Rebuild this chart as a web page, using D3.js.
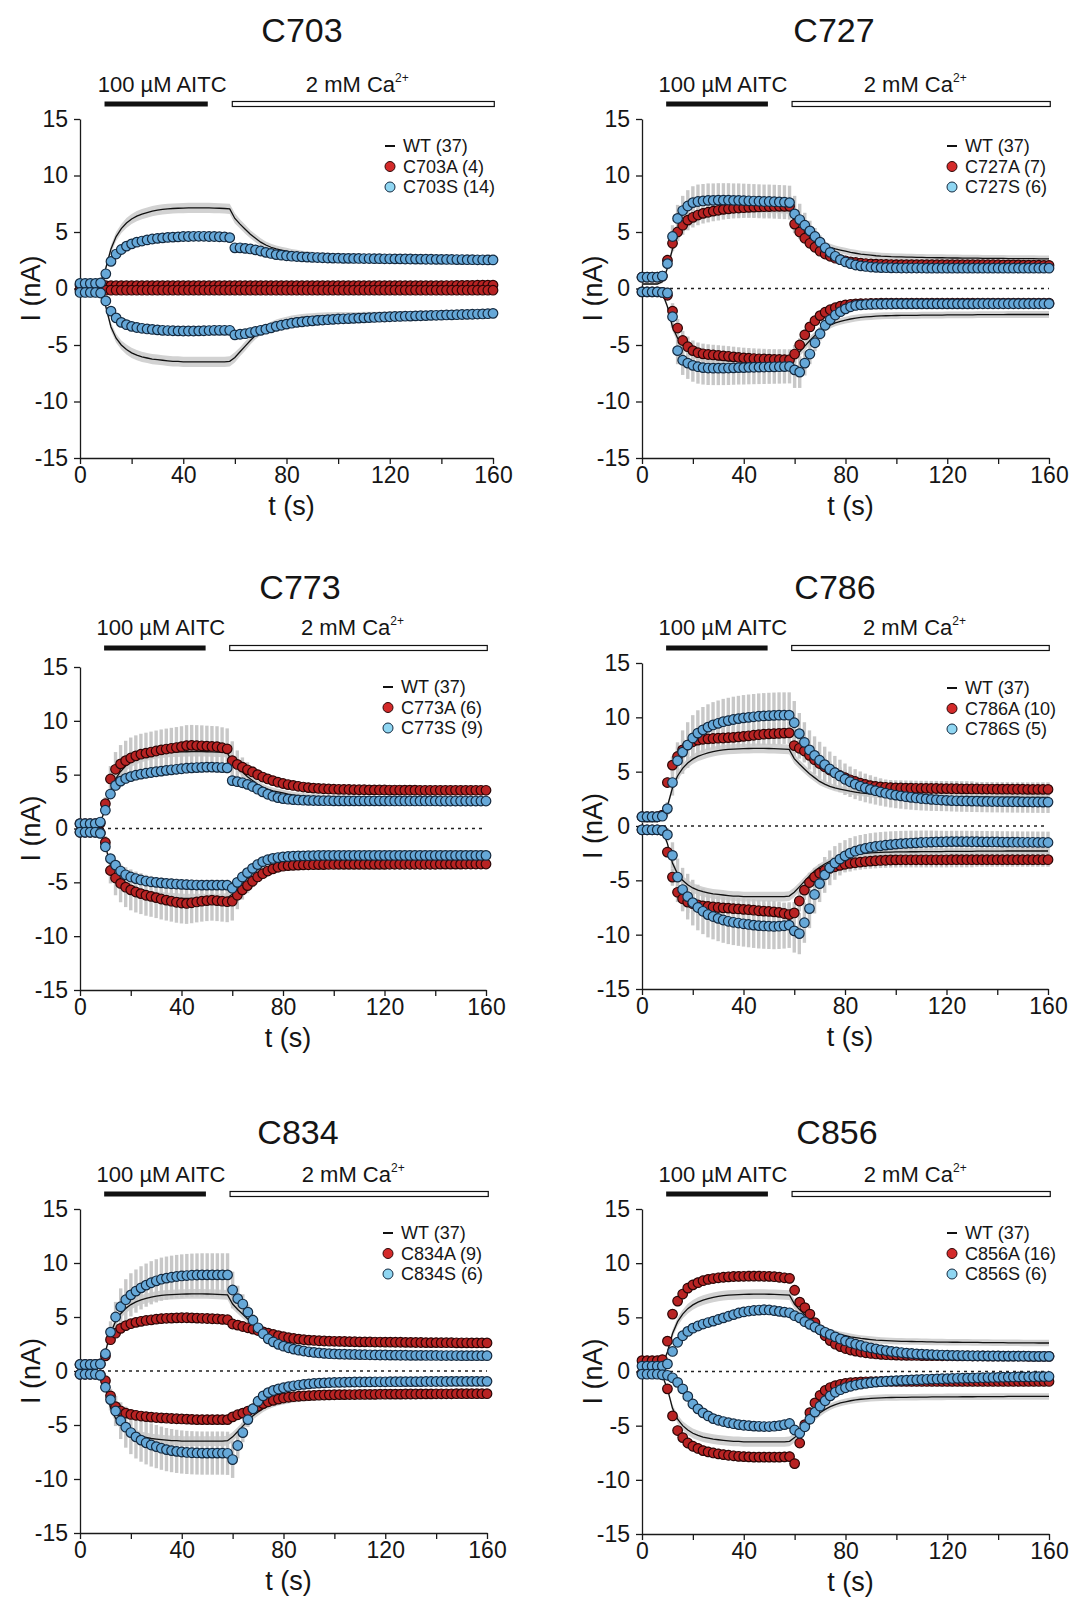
<!DOCTYPE html>
<html>
<head>
<meta charset="utf-8">
<script src="https://cdn.jsdelivr.net/npm/d3@7"></script>
<style>
  body { margin: 0; background: #fff; }
  text { font-family: "Liberation Sans", Arial, sans-serif; fill: #151515; }
</style>
</head>
<body>
<svg id="fig"></svg>
<script>
// sampling times (s)
const tSec = [0, 2, 4, 6, 8,
  10, 12, 14, 16, 18, 20, 22, 24, 26, 28, 30, 32, 34, 36, 38, 40, 42, 44, 46, 48, 50, 52, 54, 56, 58,
  60, 62, 64, 66, 68, 70, 72, 74, 76, 78, 80, 82, 84, 86, 88, 90, 92, 94, 96, 98, 100,
  102, 104, 106, 108, 110, 112, 114, 116, 118, 120, 122, 124, 126, 128, 130, 132, 134, 136, 138, 140, 142, 144, 146, 148, 150, 152, 154, 156, 158, 160];

const xTicks = [0, 20, 40, 60, 80, 100, 120, 140, 160];
const xLabels = [0, 40, 80, 120, 160];
const yTicks = [-15, -10, -5, 0, 5, 10, 15];
const aitcOn = [9.5, 49.5];
const caOn = [59, 160.5];

// WT (37), same in every panel
const wtUp = [0.4, 0.4, 0.4, 0.4, 0.6,
  1.8, 3.5, 4.6, 5.3, 5.8, 6.15, 6.4, 6.58, 6.72, 6.84, 6.93, 7.0, 7.05, 7.08, 7.1, 7.12, 7.13, 7.14, 7.14, 7.14, 7.13, 7.12, 7.1, 7.08, 7.05,
  6.2, 5.7, 5.25, 4.8, 4.45, 4.1, 3.85, 3.65, 3.5, 3.4, 3.3, 3.2, 3.12, 3.05, 3.0, 2.95, 2.9, 2.87, 2.85, 2.82, 2.8,
  2.79, 2.78, 2.77, 2.76, 2.75, 2.74, 2.73, 2.72, 2.72, 2.71, 2.7, 2.7, 2.69, 2.69, 2.68, 2.68, 2.67, 2.67, 2.66, 2.66, 2.66, 2.65, 2.65, 2.65, 2.64, 2.64, 2.64, 2.63, 2.63, 2.63];
const wtDn = [-0.2, -0.2, -0.2, -0.2, -0.4,
  -1.6, -3.4, -4.4, -5.0, -5.4, -5.7, -5.9, -6.05, -6.15, -6.25, -6.3, -6.35, -6.4, -6.45, -6.45, -6.5, -6.5, -6.5, -6.5, -6.5, -6.5, -6.5, -6.5, -6.5, -6.45,
  -6.1, -5.6, -5.1, -4.6, -4.15, -3.8, -3.5, -3.25, -3.05, -2.9, -2.8, -2.7, -2.62, -2.56, -2.52, -2.48, -2.45, -2.43, -2.41, -2.4, -2.39,
  -2.38, -2.38, -2.37, -2.37, -2.36, -2.36, -2.35, -2.35, -2.35, -2.34, -2.34, -2.34, -2.33, -2.33, -2.33, -2.32, -2.32, -2.32, -2.31, -2.31, -2.31, -2.3, -2.3, -2.3, -2.3, -2.3, -2.3, -2.3, -2.3, -2.3];
const wtErr = [0.1, 0.1, 0.1, 0.1, 0.15,
  0.25, 0.35, 0.4, 0.4, 0.45, 0.45, 0.45, 0.45, 0.45, 0.45, 0.45, 0.45, 0.45, 0.45, 0.45, 0.45, 0.45, 0.45, 0.45, 0.45, 0.45, 0.45, 0.45, 0.45, 0.45,
  0.45, 0.4, 0.4, 0.35, 0.35, 0.35, 0.3, 0.3, 0.3, 0.3, 0.3, 0.3, 0.3, 0.3, 0.3, 0.3, 0.3, 0.3, 0.3, 0.3, 0.3,
  0.3, 0.3, 0.3, 0.3, 0.3, 0.3, 0.3, 0.3, 0.3, 0.3, 0.3, 0.3, 0.3, 0.3, 0.3, 0.3, 0.3, 0.3, 0.3, 0.3, 0.3, 0.3, 0.3, 0.3, 0.3, 0.3, 0.3, 0.3, 0.3, 0.3];

// C703
const p1aUp = [0.3, 0.3, 0.3, 0.3, 0.3,
  0.25, 0.25, 0.25, 0.25, 0.25, 0.25, 0.25, 0.25, 0.25, 0.25, 0.25, 0.25, 0.25, 0.25, 0.25, 0.25, 0.25, 0.25, 0.25, 0.25, 0.25, 0.25, 0.25, 0.25, 0.25,
  0.25, 0.25, 0.25, 0.25, 0.25, 0.25, 0.25, 0.25, 0.25, 0.25, 0.25, 0.25, 0.25, 0.25, 0.25, 0.25, 0.25, 0.25, 0.25, 0.25, 0.25,
  0.25, 0.25, 0.25, 0.25, 0.25, 0.25, 0.25, 0.25, 0.25, 0.25, 0.25, 0.25, 0.25, 0.25, 0.25, 0.25, 0.25, 0.25, 0.25, 0.25, 0.26, 0.26, 0.27, 0.27, 0.28, 0.28, 0.29, 0.3, 0.3, 0.3];
const p1aDn = [-0.15, -0.15, -0.15, -0.15, -0.15,
  -0.15, -0.15, -0.15, -0.15, -0.15, -0.15, -0.15, -0.15, -0.15, -0.15, -0.15, -0.15, -0.15, -0.15, -0.15, -0.15, -0.15, -0.15, -0.15, -0.15, -0.15, -0.15, -0.15, -0.15, -0.15,
  -0.15, -0.15, -0.15, -0.15, -0.15, -0.15, -0.15, -0.15, -0.15, -0.15, -0.15, -0.15, -0.15, -0.15, -0.15, -0.15, -0.15, -0.15, -0.15, -0.15, -0.15,
  -0.15, -0.15, -0.15, -0.15, -0.15, -0.15, -0.15, -0.15, -0.15, -0.15, -0.15, -0.15, -0.15, -0.15, -0.15, -0.15, -0.15, -0.15, -0.15, -0.15, -0.15, -0.15, -0.15, -0.15, -0.15, -0.15, -0.15, -0.15, -0.15, -0.15];
const p1sUp = [0.45, 0.45, 0.45, 0.45, 0.5,
  1.3, 2.4, 3.05, 3.45, 3.75, 3.95, 4.1, 4.2, 4.3, 4.38, 4.44, 4.48, 4.52, 4.55, 4.57, 4.6, 4.6, 4.62, 4.62, 4.62, 4.6, 4.6, 4.58, 4.56, 4.5,
  3.6, 3.6, 3.55, 3.5, 3.42, 3.32, 3.2, 3.1, 3.0, 2.95, 2.9, 2.86, 2.83, 2.8, 2.78, 2.76, 2.74, 2.72, 2.7, 2.69, 2.68,
  2.67, 2.67, 2.66, 2.66, 2.65, 2.65, 2.64, 2.64, 2.63, 2.63, 2.62, 2.62, 2.61, 2.61, 2.6, 2.6, 2.59, 2.59, 2.58, 2.58, 2.57, 2.57, 2.56, 2.56, 2.55, 2.55, 2.54, 2.54, 2.53, 2.53];
const p1sDn = [-0.35, -0.35, -0.35, -0.35, -0.4,
  -1.1, -2.0, -2.6, -3.0, -3.2, -3.35, -3.45, -3.52, -3.58, -3.62, -3.66, -3.7, -3.72, -3.74, -3.75, -3.76, -3.76, -3.76, -3.75, -3.74, -3.72, -3.7, -3.7, -3.7, -3.7,
  -4.1, -4.05, -4.0, -3.9, -3.8, -3.7, -3.6, -3.48, -3.35, -3.25, -3.15, -3.07, -3.0, -2.95, -2.9, -2.86, -2.82, -2.79, -2.76, -2.73, -2.7,
  -2.68, -2.66, -2.64, -2.62, -2.6, -2.58, -2.56, -2.54, -2.52, -2.5, -2.48, -2.47, -2.45, -2.44, -2.42, -2.41, -2.4, -2.38, -2.37, -2.36, -2.34, -2.33, -2.32, -2.3, -2.29, -2.28, -2.26, -2.25, -2.23, -2.2];
const p1aErr = [0.1, 0.1, 0.1, 0.1, 0.1,
  0.1, 0.1, 0.1, 0.1, 0.1, 0.1, 0.1, 0.1, 0.1, 0.1, 0.1, 0.1, 0.1, 0.1, 0.1, 0.1, 0.1, 0.1, 0.1, 0.1, 0.1, 0.1, 0.1, 0.1, 0.1,
  0.1, 0.1, 0.1, 0.1, 0.1, 0.1, 0.1, 0.1, 0.1, 0.1, 0.1, 0.1, 0.1, 0.1, 0.1, 0.1, 0.1, 0.1, 0.1, 0.1, 0.1,
  0.1, 0.1, 0.1, 0.1, 0.1, 0.1, 0.1, 0.1, 0.1, 0.1, 0.1, 0.1, 0.1, 0.1, 0.1, 0.1, 0.1, 0.1, 0.1, 0.1, 0.1, 0.1, 0.1, 0.1, 0.1, 0.1, 0.1, 0.1, 0.1, 0.1];
const p1sErr = [0.1, 0.1, 0.1, 0.1, 0.1,
  0.2, 0.25, 0.25, 0.25, 0.25, 0.25, 0.25, 0.25, 0.25, 0.25, 0.25, 0.25, 0.25, 0.25, 0.25, 0.25, 0.25, 0.25, 0.25, 0.25, 0.25, 0.25, 0.25, 0.25, 0.25,
  0.2, 0.2, 0.2, 0.2, 0.2, 0.2, 0.2, 0.2, 0.2, 0.2, 0.2, 0.2, 0.2, 0.2, 0.2, 0.2, 0.2, 0.2, 0.2, 0.2, 0.2,
  0.2, 0.2, 0.2, 0.2, 0.2, 0.2, 0.2, 0.2, 0.2, 0.2, 0.2, 0.2, 0.2, 0.2, 0.2, 0.2, 0.2, 0.2, 0.2, 0.2, 0.2, 0.2, 0.2, 0.2, 0.2, 0.2, 0.2, 0.2, 0.2, 0.2];

// C727
const p2aUp = [1.0, 1.0, 1.0, 1.0, 1.1,
  2.5, 4.0, 5.0, 5.6, 6.05, 6.3, 6.5, 6.65, 6.75, 6.85, 6.92, 7.0, 7.05, 7.1, 7.12, 7.15, 7.18, 7.2, 7.22, 7.24, 7.25, 7.26, 7.27, 7.27, 7.27,
  5.7, 5.0, 4.45, 4.0, 3.65, 3.3, 3.05, 2.85, 2.68, 2.55, 2.45, 2.36, 2.3, 2.25, 2.21, 2.18, 2.16, 2.14, 2.13, 2.12, 2.11,
  2.1, 2.1, 2.1, 2.1, 2.1, 2.1, 2.1, 2.1, 2.1, 2.1, 2.1, 2.1, 2.1, 2.1, 2.1, 2.1, 2.1, 2.1, 2.1, 2.1, 2.09, 2.09, 2.08, 2.08, 2.07, 2.07, 2.06, 2.06, 2.05, 2.05];
const p2sUp = [1.0, 1.0, 1.0, 1.0, 1.1,
  2.2, 4.6, 6.2, 6.9, 7.3, 7.6, 7.7, 7.75, 7.8, 7.8, 7.82, 7.82, 7.82, 7.8, 7.8, 7.78, 7.76, 7.74, 7.72, 7.7, 7.7, 7.68, 7.66, 7.64, 7.6,
  6.6, 6.1, 5.6, 5.1, 4.6, 4.1, 3.6, 3.2, 2.85, 2.55, 2.35, 2.2, 2.08, 2.0, 1.95, 1.9, 1.87, 1.85, 1.84, 1.83, 1.82,
  1.81, 1.81, 1.81, 1.81, 1.81, 1.8, 1.8, 1.8, 1.8, 1.8, 1.8, 1.8, 1.8, 1.8, 1.8, 1.8, 1.8, 1.8, 1.8, 1.8, 1.8, 1.8, 1.8, 1.8, 1.8, 1.8, 1.8, 1.8, 1.8, 1.8];
const p2aDn = [-0.3, -0.3, -0.3, -0.3, -0.35,
  -0.6, -2.0, -3.5, -4.6, -5.15, -5.5, -5.68, -5.78, -5.84, -5.88, -5.92, -5.96, -6.0, -6.05, -6.1, -6.14, -6.17, -6.2, -6.22, -6.24, -6.26, -6.27, -6.28, -6.29, -6.3,
  -5.8, -5.0, -4.1, -3.4, -2.85, -2.4, -2.1, -1.88, -1.7, -1.56, -1.45, -1.4, -1.36, -1.34, -1.33, -1.32, -1.31, -1.3, -1.3, -1.3, -1.3,
  -1.3, -1.3, -1.3, -1.3, -1.3, -1.3, -1.3, -1.3, -1.3, -1.3, -1.3, -1.3, -1.3, -1.3, -1.3, -1.3, -1.3, -1.3, -1.3, -1.3, -1.3, -1.3, -1.3, -1.3, -1.3, -1.3, -1.3, -1.3, -1.3, -1.3];
const p2sDn = [-0.3, -0.3, -0.3, -0.3, -0.35,
  -0.4, -2.5, -5.5, -6.35, -6.6, -6.8, -6.92, -7.0, -7.04, -7.05, -7.05, -7.05, -7.04, -7.02, -7.0, -7.0, -6.98, -6.97, -6.96, -6.95, -6.94, -6.93, -6.92, -6.91, -6.9,
  -7.2, -7.4, -6.6, -5.8, -4.8, -4.0, -3.25, -2.75, -2.35, -2.05, -1.8, -1.62, -1.5, -1.45, -1.42, -1.4, -1.39, -1.38, -1.37, -1.37, -1.36,
  -1.36, -1.36, -1.36, -1.36, -1.36, -1.36, -1.36, -1.36, -1.36, -1.36, -1.36, -1.36, -1.36, -1.36, -1.36, -1.35, -1.35, -1.35, -1.35, -1.35, -1.35, -1.35, -1.35, -1.35, -1.35, -1.35, -1.35, -1.35, -1.35, -1.35];
const p2aErr = [0.15, 0.15, 0.15, 0.15, 0.15,
  0.4, 0.7, 0.8, 0.85, 0.9, 0.9, 0.9, 0.9, 0.9, 0.9, 0.9, 0.9, 0.9, 0.9, 0.9, 0.9, 0.9, 0.9, 0.9, 0.9, 0.9, 0.9, 0.9, 0.9, 0.9,
  0.8, 0.6, 0.5, 0.4, 0.35, 0.3, 0.3, 0.3, 0.3, 0.3, 0.3, 0.3, 0.3, 0.3, 0.3, 0.3, 0.3, 0.3, 0.3, 0.3, 0.3,
  0.3, 0.3, 0.3, 0.3, 0.3, 0.3, 0.3, 0.3, 0.3, 0.3, 0.3, 0.3, 0.3, 0.3, 0.3, 0.3, 0.3, 0.3, 0.3, 0.3, 0.3, 0.3, 0.3, 0.3, 0.3, 0.3, 0.3, 0.3, 0.3, 0.3];
const p2sErr = [0.15, 0.15, 0.15, 0.15, 0.2,
  0.5, 1.0, 1.2, 1.3, 1.4, 1.45, 1.5, 1.5, 1.5, 1.5, 1.5, 1.5, 1.5, 1.5, 1.5, 1.5, 1.5, 1.5, 1.5, 1.5, 1.5, 1.5, 1.5, 1.5, 1.5,
  1.6, 1.4, 1.1, 0.9, 0.75, 0.6, 0.5, 0.45, 0.4, 0.38, 0.35, 0.33, 0.32, 0.3, 0.3, 0.3, 0.3, 0.3, 0.3, 0.3, 0.3,
  0.3, 0.3, 0.3, 0.3, 0.3, 0.3, 0.3, 0.3, 0.3, 0.3, 0.3, 0.3, 0.3, 0.3, 0.3, 0.3, 0.3, 0.3, 0.3, 0.3, 0.3, 0.3, 0.3, 0.3, 0.3, 0.3, 0.3, 0.3, 0.3, 0.3];

// C773
const p3aUp = [0.45, 0.45, 0.45, 0.45, 0.5,
  2.3, 4.6, 5.5, 6.0, 6.3, 6.55, 6.75, 6.9, 7.0, 7.1, 7.2, 7.3, 7.38, 7.45, 7.52, 7.6, 7.7, 7.72, 7.7, 7.68, 7.65, 7.62, 7.6, 7.5, 7.4,
  6.3, 5.95, 5.7, 5.45, 5.25, 5.0, 4.78, 4.6, 4.45, 4.3, 4.18, 4.08, 4.0, 3.92, 3.85, 3.8, 3.75, 3.72, 3.69, 3.67, 3.65,
  3.64, 3.63, 3.62, 3.61, 3.6, 3.6, 3.59, 3.59, 3.58, 3.58, 3.57, 3.57, 3.57, 3.56, 3.56, 3.56, 3.55, 3.55, 3.55, 3.55, 3.55, 3.55, 3.55, 3.55, 3.55, 3.55, 3.55, 3.55, 3.55, 3.55];
const p3sUp = [0.45, 0.45, 0.45, 0.45, 0.6,
  1.7, 3.2, 4.0, 4.4, 4.65, 4.82, 4.95, 5.05, 5.13, 5.2, 5.27, 5.33, 5.4, 5.45, 5.5, 5.55, 5.6, 5.63, 5.66, 5.68, 5.7, 5.7, 5.68, 5.66, 5.63,
  4.45, 4.35, 4.25, 4.1, 3.9, 3.65, 3.4, 3.18, 3.0, 2.87, 2.78, 2.72, 2.68, 2.65, 2.63, 2.61, 2.6, 2.59, 2.58, 2.58, 2.57,
  2.57, 2.57, 2.57, 2.57, 2.57, 2.57, 2.57, 2.57, 2.57, 2.57, 2.56, 2.56, 2.56, 2.56, 2.56, 2.56, 2.56, 2.56, 2.56, 2.56, 2.55, 2.55, 2.55, 2.55, 2.55, 2.55, 2.55, 2.55, 2.55, 2.55];
const p3aDn = [-0.35, -0.35, -0.35, -0.35, -0.4,
  -1.3, -3.9, -4.6, -5.1, -5.45, -5.7, -5.9, -6.05, -6.2, -6.3, -6.42, -6.55, -6.65, -6.75, -6.85, -6.92, -6.96, -6.9, -6.82, -6.75, -6.7, -6.66, -6.7, -6.75, -6.8,
  -6.75, -6.2, -5.7, -5.3, -4.9, -4.5, -4.2, -3.95, -3.75, -3.6, -3.5, -3.45, -3.42, -3.4, -3.38, -3.37, -3.36, -3.35, -3.35, -3.34, -3.34,
  -3.33, -3.33, -3.33, -3.33, -3.33, -3.33, -3.33, -3.33, -3.33, -3.33, -3.32, -3.32, -3.32, -3.32, -3.32, -3.32, -3.32, -3.32, -3.32, -3.32, -3.31, -3.31, -3.31, -3.31, -3.31, -3.3, -3.3, -3.3, -3.3, -3.3];
const p3sDn = [-0.35, -0.35, -0.35, -0.35, -0.45,
  -1.7, -2.8, -3.4, -3.95, -4.3, -4.5, -4.65, -4.78, -4.88, -4.95, -5.0, -5.05, -5.1, -5.13, -5.16, -5.19, -5.21, -5.23, -5.25, -5.26, -5.26, -5.26, -5.26, -5.26, -5.26,
  -5.55, -5.0, -4.5, -4.1, -3.7, -3.35, -3.08, -2.9, -2.78, -2.7, -2.64, -2.6, -2.57, -2.55, -2.54, -2.53, -2.52, -2.51, -2.5, -2.5, -2.5,
  -2.5, -2.5, -2.5, -2.5, -2.5, -2.5, -2.5, -2.5, -2.5, -2.5, -2.5, -2.5, -2.5, -2.5, -2.5, -2.5, -2.5, -2.5, -2.5, -2.5, -2.5, -2.5, -2.5, -2.5, -2.5, -2.5, -2.5, -2.5, -2.5, -2.5];
const p3aErr = [0.15, 0.15, 0.15, 0.15, 0.15,
  0.6, 1.2, 1.6, 1.75, 1.85, 1.9, 1.9, 1.9, 1.9, 1.9, 1.9, 1.9, 1.9, 1.9, 1.9, 1.9, 1.9, 1.9, 1.9, 1.9, 1.9, 1.9, 1.9, 1.9, 1.9,
  1.8, 1.3, 0.9, 0.7, 0.55, 0.45, 0.4, 0.38, 0.36, 0.35, 0.35, 0.35, 0.35, 0.35, 0.35, 0.35, 0.35, 0.35, 0.35, 0.35, 0.35,
  0.35, 0.35, 0.35, 0.35, 0.35, 0.35, 0.35, 0.35, 0.35, 0.35, 0.35, 0.35, 0.35, 0.35, 0.35, 0.35, 0.35, 0.35, 0.35, 0.35, 0.35, 0.35, 0.35, 0.35, 0.35, 0.35, 0.35, 0.35, 0.35, 0.35];
const p3sErr = [0.15, 0.15, 0.15, 0.15, 0.15,
  0.3, 0.4, 0.5, 0.5, 0.5, 0.5, 0.5, 0.5, 0.5, 0.5, 0.5, 0.5, 0.5, 0.5, 0.5, 0.5, 0.5, 0.5, 0.5, 0.5, 0.5, 0.5, 0.5, 0.5, 0.5,
  0.5, 0.45, 0.4, 0.35, 0.3, 0.3, 0.3, 0.3, 0.3, 0.3, 0.3, 0.3, 0.3, 0.3, 0.3, 0.3, 0.3, 0.3, 0.3, 0.3, 0.3,
  0.3, 0.3, 0.3, 0.3, 0.3, 0.3, 0.3, 0.3, 0.3, 0.3, 0.3, 0.3, 0.3, 0.3, 0.3, 0.3, 0.3, 0.3, 0.3, 0.3, 0.3, 0.3, 0.3, 0.3, 0.3, 0.3, 0.3, 0.3, 0.3, 0.3];

// C786
const p4aUp = [0.85, 0.85, 0.85, 0.85, 1.0,
  4.0, 5.6, 6.4, 7.0, 7.45, 7.75, 7.9, 7.98, 8.02, 8.05, 8.08, 8.1, 8.13, 8.16, 8.2, 8.25, 8.3, 8.35, 8.4, 8.45, 8.48, 8.5, 8.52, 8.55, 8.57,
  7.4, 7.15, 6.9, 6.5, 6.1, 5.75, 5.45, 5.15, 4.9, 4.65, 4.45, 4.25, 4.1, 3.95, 3.82, 3.72, 3.65, 3.6, 3.56, 3.53, 3.51,
  3.5, 3.49, 3.48, 3.47, 3.46, 3.46, 3.45, 3.45, 3.44, 3.44, 3.43, 3.43, 3.42, 3.42, 3.41, 3.41, 3.4, 3.4, 3.4, 3.39, 3.39, 3.39, 3.38, 3.38, 3.38, 3.37, 3.37, 3.37, 3.37, 3.37];
const p4sUp = [0.85, 0.85, 0.85, 0.85, 0.9,
  1.6, 4.0, 6.0, 6.8, 7.45, 8.1, 8.55, 8.85, 9.1, 9.3, 9.45, 9.6, 9.7, 9.8, 9.88, 9.95, 10.0, 10.05, 10.1, 10.13, 10.16, 10.18, 10.2, 10.2, 10.2,
  9.5, 8.5, 7.7, 7.0, 6.5, 6.05, 5.65, 5.25, 4.9, 4.6, 4.3, 4.07, 3.85, 3.67, 3.5, 3.37, 3.25, 3.13, 3.02, 2.92, 2.84,
  2.77, 2.7, 2.64, 2.58, 2.53, 2.49, 2.45, 2.42, 2.39, 2.36, 2.34, 2.32, 2.31, 2.3, 2.29, 2.28, 2.27, 2.26, 2.25, 2.25, 2.24, 2.24, 2.23, 2.23, 2.22, 2.22, 2.21, 2.21, 2.2, 2.2];
const p4aDn = [-0.35, -0.35, -0.35, -0.35, -0.4,
  -2.4, -4.7, -6.1, -6.7, -7.0, -7.15, -7.25, -7.35, -7.4, -7.45, -7.5, -7.53, -7.56, -7.6, -7.63, -7.67, -7.7, -7.75, -7.8, -7.83, -7.86, -7.9, -7.95, -8.05, -8.15,
  -8.0, -6.9, -5.9, -5.2, -4.7, -4.35, -4.1, -3.9, -3.75, -3.62, -3.52, -3.44, -3.38, -3.32, -3.27, -3.23, -3.2, -3.17, -3.15, -3.13, -3.12,
  -3.11, -3.11, -3.11, -3.11, -3.11, -3.11, -3.11, -3.11, -3.11, -3.11, -3.1, -3.1, -3.1, -3.1, -3.1, -3.1, -3.1, -3.1, -3.1, -3.1, -3.1, -3.1, -3.1, -3.1, -3.1, -3.1, -3.1, -3.1, -3.1, -3.1];
const p4sDn = [-0.35, -0.35, -0.35, -0.35, -0.4,
  -0.8, -2.7, -4.7, -5.85, -6.5, -7.05, -7.5, -7.85, -8.15, -8.33, -8.5, -8.65, -8.77, -8.86, -8.93, -9.0, -9.06, -9.12, -9.17, -9.2, -9.22, -9.24, -9.22, -9.18, -9.12,
  -9.65, -9.9, -8.9, -7.6, -6.3, -5.3, -4.5, -3.85, -3.4, -3.05, -2.75, -2.5, -2.32, -2.18, -2.06, -1.96, -1.88, -1.82, -1.76, -1.71, -1.67,
  -1.63, -1.6, -1.57, -1.55, -1.52, -1.5, -1.48, -1.47, -1.46, -1.45, -1.44, -1.44, -1.44, -1.44, -1.45, -1.45, -1.46, -1.46, -1.47, -1.47, -1.48, -1.48, -1.49, -1.49, -1.5, -1.5, -1.5, -1.51, -1.51, -1.52];
const p4aErr = [0.2, 0.2, 0.2, 0.2, 0.2,
  0.5, 0.8, 0.9, 1.0, 1.0, 1.0, 1.0, 1.0, 1.0, 1.0, 1.0, 1.0, 1.0, 1.0, 1.0, 1.0, 1.0, 1.0, 1.0, 1.0, 1.0, 1.0, 1.0, 1.0, 1.0,
  1.0, 0.95, 0.9, 0.9, 0.85, 0.85, 0.8, 0.8, 0.8, 0.75, 0.75, 0.75, 0.7, 0.7, 0.7, 0.7, 0.7, 0.7, 0.7, 0.7, 0.7,
  0.7, 0.7, 0.7, 0.7, 0.7, 0.7, 0.7, 0.7, 0.7, 0.7, 0.7, 0.7, 0.7, 0.7, 0.7, 0.65, 0.65, 0.65, 0.65, 0.65, 0.65, 0.65, 0.65, 0.65, 0.65, 0.65, 0.65, 0.65, 0.65, 0.65];
const p4sErr = [0.2, 0.2, 0.2, 0.2, 0.2,
  0.6, 1.2, 1.7, 2.0, 2.1, 2.1, 2.1, 2.1, 2.1, 2.1, 2.1, 2.1, 2.1, 2.1, 2.1, 2.1, 2.1, 2.1, 2.1, 2.1, 2.1, 2.1, 2.1, 2.1, 2.1,
  2.0, 1.9, 1.85, 1.8, 1.75, 1.7, 1.65, 1.6, 1.55, 1.5, 1.45, 1.4, 1.38, 1.35, 1.32, 1.3, 1.28, 1.26, 1.24, 1.22, 1.2,
  1.18, 1.16, 1.14, 1.12, 1.1, 1.08, 1.06, 1.04, 1.02, 1.0, 1.0, 1.0, 1.0, 1.0, 1.0, 1.0, 1.0, 1.0, 1.0, 1.0, 1.0, 1.0, 1.0, 1.0, 1.0, 1.0, 1.0, 1.0, 1.0, 1.0];

// C834
const p5aUp = [0.6, 0.6, 0.6, 0.6, 0.65,
  1.4, 2.9, 3.5, 3.95, 4.2, 4.38, 4.5, 4.6, 4.68, 4.74, 4.8, 4.85, 4.88, 4.9, 4.92, 4.93, 4.93, 4.92, 4.9, 4.88, 4.86, 4.84, 4.82, 4.78, 4.75,
  4.35, 4.25, 4.12, 4.0, 3.88, 3.75, 3.62, 3.5, 3.38, 3.27, 3.17, 3.08, 3.01, 2.95, 2.9, 2.86, 2.83, 2.8, 2.78, 2.76, 2.75,
  2.74, 2.73, 2.72, 2.71, 2.7, 2.7, 2.69, 2.68, 2.68, 2.67, 2.67, 2.66, 2.66, 2.65, 2.65, 2.64, 2.64, 2.63, 2.63, 2.63, 2.62, 2.62, 2.62, 2.61, 2.61, 2.61, 2.6, 2.6, 2.6, 2.6];
const p5sUp = [0.6, 0.6, 0.6, 0.6, 0.65,
  1.6, 3.6, 5.0, 5.95, 6.6, 7.05, 7.4, 7.7, 7.95, 8.17, 8.35, 8.5, 8.6, 8.68, 8.75, 8.8, 8.84, 8.87, 8.89, 8.9, 8.9, 8.9, 8.9, 8.9, 8.9,
  7.5, 6.7, 6.2, 5.45, 4.7, 4.0, 3.45, 2.98, 2.7, 2.47, 2.3, 2.15, 2.03, 1.93, 1.85, 1.78, 1.72, 1.67, 1.63, 1.6, 1.58,
  1.56, 1.55, 1.54, 1.53, 1.52, 1.51, 1.5, 1.49, 1.48, 1.48, 1.47, 1.47, 1.46, 1.46, 1.45, 1.45, 1.45, 1.44, 1.44, 1.44, 1.43, 1.43, 1.43, 1.43, 1.42, 1.42, 1.42, 1.42, 1.42, 1.42];
const p5aDn = [-0.3, -0.3, -0.3, -0.3, -0.35,
  -0.9, -2.3, -3.3, -3.7, -3.9, -4.02, -4.1, -4.17, -4.22, -4.27, -4.31, -4.34, -4.37, -4.4, -4.42, -4.44, -4.46, -4.48, -4.5, -4.5, -4.5, -4.5, -4.5, -4.5, -4.5,
  -4.25, -4.05, -3.9, -3.72, -3.5, -3.25, -3.02, -2.85, -2.72, -2.6, -2.5, -2.43, -2.38, -2.34, -2.31, -2.28, -2.26, -2.24, -2.22, -2.21, -2.2,
  -2.19, -2.19, -2.18, -2.18, -2.17, -2.17, -2.16, -2.16, -2.15, -2.15, -2.14, -2.14, -2.14, -2.13, -2.13, -2.13, -2.12, -2.12, -2.12, -2.11, -2.11, -2.11, -2.11, -2.1, -2.1, -2.1, -2.1, -2.1, -2.1, -2.1];
const p5sDn = [-0.3, -0.3, -0.3, -0.3, -0.4,
  -1.5, -2.65, -3.7, -4.6, -5.2, -5.7, -6.1, -6.4, -6.65, -6.85, -7.0, -7.15, -7.28, -7.37, -7.44, -7.5, -7.54, -7.57, -7.59, -7.6, -7.6, -7.6, -7.6, -7.6, -7.62,
  -8.2, -6.9, -5.7, -4.5, -3.5, -2.8, -2.3, -2.0, -1.8, -1.66, -1.55, -1.45, -1.37, -1.3, -1.24, -1.19, -1.15, -1.12, -1.1, -1.08, -1.06,
  -1.05, -1.04, -1.03, -1.02, -1.02, -1.01, -1.01, -1.0, -1.0, -1.0, -0.99, -0.99, -0.99, -0.98, -0.98, -0.98, -0.98, -0.97, -0.97, -0.97, -0.97, -0.97, -0.96, -0.96, -0.96, -0.96, -0.96, -0.96, -0.96, -0.96];
const p5aErr = [0.15, 0.15, 0.15, 0.15, 0.15,
  0.3, 0.3, 0.3, 0.3, 0.3, 0.3, 0.3, 0.3, 0.3, 0.3, 0.3, 0.3, 0.3, 0.3, 0.3, 0.3, 0.3, 0.3, 0.3, 0.3, 0.3, 0.3, 0.3, 0.3, 0.3,
  0.3, 0.3, 0.3, 0.3, 0.3, 0.3, 0.3, 0.3, 0.3, 0.3, 0.3, 0.3, 0.3, 0.3, 0.3, 0.3, 0.3, 0.3, 0.3, 0.3, 0.3,
  0.3, 0.3, 0.3, 0.3, 0.3, 0.3, 0.3, 0.3, 0.3, 0.3, 0.3, 0.3, 0.3, 0.3, 0.3, 0.3, 0.3, 0.3, 0.3, 0.3, 0.3, 0.3, 0.3, 0.3, 0.3, 0.3, 0.3, 0.3, 0.3, 0.3];
const p5sErr = [0.15, 0.15, 0.15, 0.15, 0.15,
  0.5, 1.0, 1.4, 1.7, 1.9, 2.0, 2.0, 2.0, 2.0, 2.0, 2.0, 2.0, 2.0, 2.0, 2.0, 2.0, 2.0, 2.0, 2.0, 2.0, 2.0, 2.0, 2.0, 2.0, 2.0,
  1.7, 1.2, 0.9, 0.7, 0.55, 0.45, 0.4, 0.35, 0.3, 0.3, 0.3, 0.3, 0.3, 0.3, 0.3, 0.3, 0.3, 0.3, 0.3, 0.3, 0.3,
  0.3, 0.3, 0.3, 0.3, 0.3, 0.3, 0.3, 0.3, 0.3, 0.3, 0.3, 0.3, 0.3, 0.3, 0.3, 0.3, 0.3, 0.3, 0.3, 0.3, 0.3, 0.3, 0.3, 0.3, 0.3, 0.3, 0.3, 0.3, 0.3, 0.3];

// C856
const p6aUp = [1.0, 1.0, 1.0, 1.0, 1.1,
  2.8, 5.3, 6.5, 7.15, 7.7, 8.0, 8.2, 8.38, 8.5, 8.58, 8.65, 8.7, 8.74, 8.77, 8.78, 8.79, 8.8, 8.8, 8.8, 8.79, 8.78, 8.75, 8.7, 8.65, 8.6,
  7.5, 6.4, 5.9, 5.3, 4.5, 3.85, 3.3, 2.85, 2.52, 2.3, 2.12, 1.98, 1.88, 1.8, 1.73, 1.67, 1.62, 1.58, 1.55, 1.53, 1.51,
  1.5, 1.49, 1.48, 1.48, 1.47, 1.47, 1.46, 1.46, 1.45, 1.45, 1.45, 1.44, 1.44, 1.44, 1.43, 1.43, 1.43, 1.42, 1.42, 1.42, 1.42, 1.41, 1.41, 1.41, 1.41, 1.4, 1.4, 1.4, 1.4, 1.4];
const p6sUp = [0.5, 0.5, 0.5, 0.5, 0.5,
  0.7, 1.85, 2.7, 3.3, 3.7, 4.0, 4.2, 4.38, 4.52, 4.65, 4.8, 4.95, 5.1, 5.25, 5.4, 5.5, 5.58, 5.63, 5.67, 5.7, 5.68, 5.62, 5.55, 5.48, 5.42,
  5.15, 4.95, 4.6, 4.35, 4.1, 3.85, 3.62, 3.42, 3.2, 3.0, 2.82, 2.66, 2.52, 2.4, 2.28, 2.18, 2.09, 2.0, 1.93, 1.86, 1.8,
  1.75, 1.7, 1.66, 1.63, 1.6, 1.58, 1.56, 1.54, 1.52, 1.5, 1.49, 1.48, 1.47, 1.46, 1.45, 1.45, 1.44, 1.44, 1.43, 1.43, 1.42, 1.42, 1.42, 1.41, 1.41, 1.41, 1.4, 1.4, 1.4, 1.4];
const p6aDn = [-0.15, -0.15, -0.15, -0.15, -0.3,
  -1.6, -4.1, -5.45, -6.1, -6.6, -6.9, -7.1, -7.3, -7.42, -7.52, -7.6, -7.67, -7.73, -7.78, -7.83, -7.86, -7.88, -7.9, -7.9, -7.9, -7.9, -7.9, -7.9, -7.88, -7.86,
  -8.5, -6.6, -4.9, -3.8, -2.9, -2.2, -1.75, -1.48, -1.3, -1.18, -1.1, -1.04, -1.0, -0.97, -0.95, -0.94, -0.93, -0.92, -0.92, -0.92, -0.92,
  -0.92, -0.92, -0.92, -0.92, -0.92, -0.92, -0.92, -0.92, -0.92, -0.92, -0.92, -0.92, -0.92, -0.92, -0.92, -0.92, -0.92, -0.92, -0.92, -0.92, -0.92, -0.92, -0.92, -0.92, -0.92, -0.92, -0.92, -0.92, -0.92, -0.92];
const p6sDn = [-0.25, -0.25, -0.25, -0.25, -0.3,
  -0.35, -0.58, -1.0, -1.6, -2.3, -3.0, -3.45, -3.82, -4.1, -4.35, -4.5, -4.62, -4.73, -4.82, -4.9, -4.96, -5.0, -5.04, -5.06, -5.08, -5.08, -5.05, -5.0, -4.9, -4.8,
  -5.4, -5.7, -5.1, -4.4, -3.75, -3.2, -2.7, -2.25, -1.92, -1.68, -1.5, -1.36, -1.25, -1.16, -1.09, -1.03, -0.98, -0.94, -0.9, -0.87, -0.84,
  -0.82, -0.8, -0.78, -0.76, -0.74, -0.72, -0.7, -0.69, -0.67, -0.66, -0.64, -0.63, -0.62, -0.61, -0.6, -0.58, -0.57, -0.56, -0.55, -0.54, -0.53, -0.52, -0.51, -0.5, -0.5, -0.49, -0.48, -0.47, -0.47, -0.46];
const p6aErr = [0.15, 0.15, 0.15, 0.15, 0.15,
  0.3, 0.4, 0.5, 0.5, 0.5, 0.5, 0.5, 0.5, 0.5, 0.5, 0.5, 0.5, 0.5, 0.5, 0.5, 0.5, 0.5, 0.5, 0.5, 0.5, 0.5, 0.5, 0.5, 0.5, 0.5,
  0.5, 0.45, 0.4, 0.35, 0.3, 0.3, 0.3, 0.3, 0.3, 0.3, 0.3, 0.3, 0.3, 0.3, 0.3, 0.3, 0.3, 0.3, 0.3, 0.3, 0.3,
  0.3, 0.3, 0.3, 0.3, 0.3, 0.3, 0.3, 0.3, 0.3, 0.3, 0.3, 0.3, 0.3, 0.3, 0.3, 0.3, 0.3, 0.3, 0.3, 0.3, 0.3, 0.3, 0.3, 0.3, 0.3, 0.3, 0.3, 0.3, 0.3, 0.3];
const p6sErr = [0.15, 0.15, 0.15, 0.15, 0.15,
  0.2, 0.3, 0.35, 0.35, 0.35, 0.35, 0.35, 0.35, 0.35, 0.35, 0.35, 0.35, 0.35, 0.35, 0.35, 0.35, 0.35, 0.35, 0.35, 0.35, 0.35, 0.35, 0.35, 0.35, 0.35,
  0.3, 0.3, 0.3, 0.3, 0.3, 0.3, 0.3, 0.3, 0.3, 0.3, 0.3, 0.3, 0.3, 0.3, 0.3, 0.3, 0.3, 0.3, 0.3, 0.3, 0.3,
  0.3, 0.3, 0.3, 0.3, 0.3, 0.3, 0.3, 0.3, 0.3, 0.3, 0.3, 0.3, 0.3, 0.3, 0.3, 0.3, 0.3, 0.3, 0.3, 0.3, 0.3, 0.3, 0.3, 0.3, 0.3, 0.3, 0.3, 0.3, 0.3, 0.3];

const panels = [
  {title: "C703", nA: "C703A (4)", nS: "C703S (14)", aUp: p1aUp, aDn: p1aDn, sUp: p1sUp, sDn: p1sDn, aErr: p1aErr, sErr: p1sErr},
  {title: "C727", nA: "C727A (7)", nS: "C727S (6)", aUp: p2aUp, aDn: p2aDn, sUp: p2sUp, sDn: p2sDn, aErr: p2aErr, sErr: p2sErr},
  {title: "C773", nA: "C773A (6)", nS: "C773S (9)", aUp: p3aUp, aDn: p3aDn, sUp: p3sUp, sDn: p3sDn, aErr: p3aErr, sErr: p3sErr},
  {title: "C786", nA: "C786A (10)", nS: "C786S (5)", aUp: p4aUp, aDn: p4aDn, sUp: p4sUp, sDn: p4sDn, aErr: p4aErr, sErr: p4sErr},
  {title: "C834", nA: "C834A (9)", nS: "C834S (6)", aUp: p5aUp, aDn: p5aDn, sUp: p5sUp, sDn: p5sDn, aErr: p5aErr, sErr: p5sErr},
  {title: "C856", nA: "C856A (16)", nS: "C856S (6)", aUp: p6aUp, aDn: p6aDn, sUp: p6sUp, sDn: p6sDn, aErr: p6aErr, sErr: p6sErr}
];

// panel frames in page pixels
const boxes = [
  {x0: 80, x1: 493, y0: 119, y1: 458, tx: 302, ty: 30, lab: 92, bar: 104, lx: 390, ly: 146},
  {x0: 642, x1: 1049, y0: 119, y1: 458, tx: 834, ty: 30, lab: 92, bar: 104, lx: 952, ly: 146},
  {x0: 80, x1: 486, y0: 667, y1: 990, tx: 300, ty: 587, lab: 635, bar: 648, lx: 388, ly: 687},
  {x0: 642, x1: 1048, y0: 663, y1: 989, tx: 835, ty: 587, lab: 635, bar: 648, lx: 952, ly: 688},
  {x0: 80, x1: 487, y0: 1209, y1: 1533, tx: 298, ty: 1132, lab: 1182, bar: 1194, lx: 388, ly: 1233},
  {x0: 642, x1: 1049, y0: 1209, y1: 1534, tx: 837, ty: 1132, lab: 1182, bar: 1194, lx: 952, ly: 1233}
];

const redFill = "#b82323", redStroke = "#2c0606";
const blueFill = "#66a8d8", blueStroke = "#142a40";

const svg = d3.select("#fig").attr("width", 1070).attr("height", 1624);
svg.append("rect").attr("width", 1070).attr("height", 1624).attr("fill", "#fff");

// quick length check
const bad = [];
panels.forEach(p => ["aUp", "aDn", "sUp", "sDn", "aErr", "sErr"].forEach(k => {
  if (p[k].length !== tSec.length) bad.push(p.title + " " + k + " " + p[k].length);
}));
[wtUp, wtDn, wtErr].forEach((a, i) => { if (a.length !== tSec.length) bad.push("wt" + i + " " + a.length); });
if (bad.length) svg.append("text").attr("x", 10).attr("y", 1615).attr("font-size", 12).style("fill", "red").text(bad.join(" | "));

function pts(vals, err) {
  return tSec.map((t, i) => ({t: t, v: vals[i], e: err ? err[i] : 0}));
}

panels.forEach((p, k) => {
  const b = boxes[k];
  const x = d3.scaleLinear().domain([0, 160]).range([b.x0, b.x1]);
  const y = d3.scaleLinear().domain([-15, 15]).range([b.y1, b.y0]);
  const g = svg.append("g");

  g.append("text").attr("x", b.tx).attr("y", b.ty + 12)
    .attr("text-anchor", "middle").attr("font-size", 34).text(p.title);

  // stimulus bars
  const aMid = (x(aitcOn[0]) + x(aitcOn[1])) / 2;
  const cMid = (x(caOn[0]) + x(caOn[1])) / 2;
  g.append("rect").attr("x", x(aitcOn[0])).attr("width", x(aitcOn[1]) - x(aitcOn[0]))
    .attr("y", b.bar - 2.5).attr("height", 5).attr("fill", "#111");
  g.append("rect").attr("x", x(caOn[0])).attr("width", x(caOn[1]) - x(caOn[0]))
    .attr("y", b.bar - 2.5).attr("height", 5).attr("fill", "#fff")
    .attr("stroke", "#111").attr("stroke-width", 1.2);
  g.append("text").attr("x", aMid + 6).attr("y", b.lab).attr("text-anchor", "middle")
    .attr("font-size", 22).text("100 µM AITC");
  const ca = g.append("text").attr("x", cMid - 6).attr("y", b.lab).attr("text-anchor", "middle")
    .attr("font-size", 22);
  ca.append("tspan").text("2 mM Ca");
  ca.append("tspan").attr("font-size", 12).attr("dy", -10).text("2+");

  // axes
  const xa = g.append("g").attr("transform", `translate(0,${b.y1})`)
    .call(d3.axisBottom(x).tickValues(xTicks).tickSize(6).tickSizeOuter(0).tickPadding(3)
      .tickFormat(d => xLabels.includes(d) ? String(d) : ""));
  const ya = g.append("g").attr("transform", `translate(${b.x0},0)`)
    .call(d3.axisLeft(y).tickValues(yTicks).tickSize(6).tickSizeOuter(0).tickPadding(6)
      .tickFormat(d => String(d)));
  [xa, ya].forEach(a => {
    a.attr("font-size", 23).attr("font-family", null);
    a.selectAll("path, line").attr("stroke", "#1a1a1a").attr("stroke-width", 1.3);
  });

  g.append("text").attr("transform", `translate(${b.x0 - 40},${(b.y0 + b.y1) / 2}) rotate(-90)`)
    .attr("text-anchor", "middle").attr("font-size", 27).text("I (nA)");
  g.append("text").attr("x", (b.x0 + b.x1) / 2 + 5).attr("y", b.y1 + 57)
    .attr("text-anchor", "middle").attr("font-size", 27).text("t (s)");

  // zero line
  g.append("line").attr("x1", x(0)).attr("x2", x(160)).attr("y1", y(0)).attr("y2", y(0))
    .attr("stroke", "#222").attr("stroke-width", 1.6).attr("stroke-dasharray", "3,4");

  // WT mean +- sem
  [wtUp, wtDn].forEach(arr => {
    const d = pts(arr, wtErr);
    g.append("path").datum(d)
      .attr("d", d3.area().x(q => x(q.t)).y0(q => y(q.v - q.e)).y1(q => y(q.v + q.e)))
      .attr("fill", "#d2d2d2");
  });

  // mutant error bars
  const errG = g.append("g").attr("stroke", "#c8c8c8").attr("stroke-width", 3.4);
  [[p.aUp, p.aErr], [p.aDn, p.aErr], [p.sUp, p.sErr], [p.sDn, p.sErr]].forEach(([v, e]) => {
    errG.append("g").selectAll("line").data(pts(v, e)).join("line")
      .attr("x1", q => x(q.t)).attr("x2", q => x(q.t))
      .attr("y1", q => y(q.v - q.e)).attr("y2", q => y(q.v + q.e));
  });

  [wtUp, wtDn].forEach(arr => {
    g.append("path").datum(pts(arr))
      .attr("d", d3.line().x(q => x(q.t)).y(q => y(q.v)))
      .attr("fill", "none").attr("stroke", "#111").attr("stroke-width", 1.3);
  });

  // mutant means
  const dots = (vals, fill, stroke) => g.append("g").selectAll("circle").data(pts(vals)).join("circle")
    .attr("cx", q => x(q.t)).attr("cy", q => y(q.v)).attr("r", 4.8)
    .attr("fill", fill).attr("stroke", stroke).attr("stroke-width", 1.2);
  dots(p.aUp, redFill, redStroke);
  dots(p.aDn, redFill, redStroke);
  dots(p.sUp, blueFill, blueStroke);
  dots(p.sDn, blueFill, blueStroke);

  // legend
  const lg = g.append("g");
  lg.append("line").attr("x1", b.lx - 5).attr("x2", b.lx + 5).attr("y1", b.ly).attr("y2", b.ly)
    .attr("stroke", "#111").attr("stroke-width", 2);
  lg.append("circle").attr("cx", b.lx).attr("cy", b.ly + 20.5).attr("r", 5)
    .attr("fill", "#d42a2a").attr("stroke", redStroke).attr("stroke-width", 1);
  lg.append("circle").attr("cx", b.lx).attr("cy", b.ly + 41).attr("r", 5)
    .attr("fill", "#8fd6f2").attr("stroke", blueStroke).attr("stroke-width", 1);
  ["WT (37)", p.nA, p.nS].forEach((s, i) => {
    lg.append("text").attr("x", b.lx + 13).attr("y", b.ly + i * 20.5).attr("dy", "0.36em")
      .attr("font-size", 18).text(s);
  });
});
</script>
</body>
</html>
